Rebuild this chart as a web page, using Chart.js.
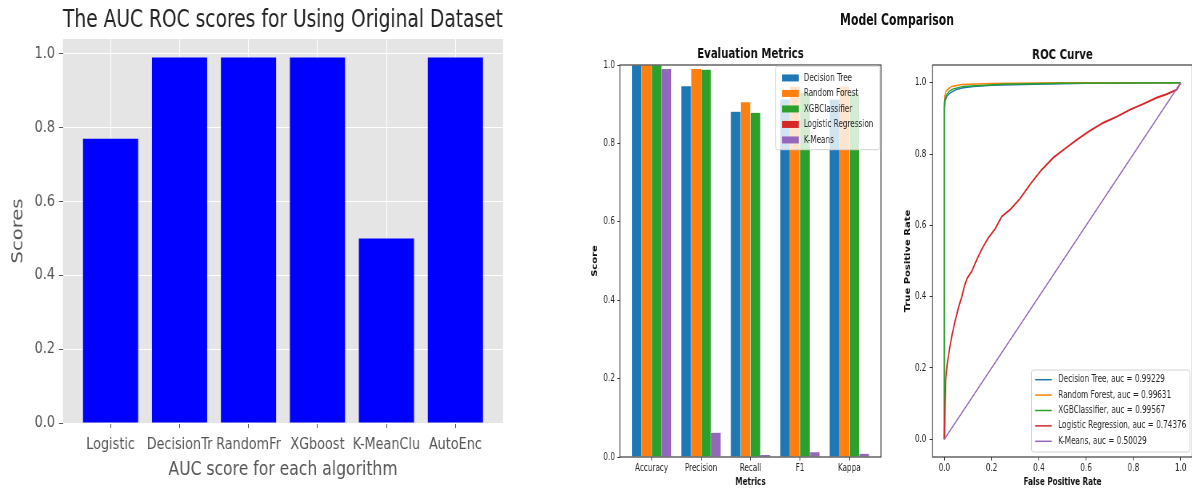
<!DOCTYPE html>
<html>
<head>
<meta charset="utf-8">
<script src="https://cdn.jsdelivr.net/npm/chart.js@4.4.1/dist/chart.umd.min.js"></script>
<style>
  html, body { margin: 0; padding: 0; background: #fff; width: 1192px; height: 495px; overflow: hidden; position: relative; }
  .panel { position: absolute; top: 0; height: 495px; transform-origin: 0 0; }
  #left { left: 0; width: 700px; transform: scaleX(0.8); }
  #right { left: 560px; width: 900px; transform: scaleX(0.726); }
  canvas { position: absolute; top: 0; }
  #suptitle { position: absolute; top: 10.5px; left: 464.2px; transform: translateX(-50%);
              font: bold 15px 'DejaVu Sans', sans-serif; line-height: 19px; white-space: nowrap; color: #111; }
</style>
</head>
<body>
<div id="left" class="panel"><canvas id="aucChart" width="700" height="495" style="left:0"></canvas></div>
<div id="right" class="panel">
  <div id="suptitle">Model Comparison</div>
  <canvas id="metricsChart" width="470" height="495" style="left:0"></canvas>
  <canvas id="rocChart" width="435" height="495" style="left:465px"></canvas>
</div>
<script>
// ---- AUC per algorithm ----
const aucAlgorithms = ['Logistic', 'DecisionTr', 'RandomFr', 'XGboost', 'K-MeanClu', 'AutoEnc'];
const aucScores = [0.77, 0.99, 0.99, 0.99, 0.50, 0.99];

// ---- shared 0..1 tick values ----
const unitTicks = [0, 0.2, 0.4, 0.6, 0.8, 1.0];

// ---- evaluation metrics per model ----
const metricNames = ['Accuracy', 'Precision', 'Recall', 'F1', 'Kappa'];
const modelNames = ['Decision Tree', 'Random Forest', 'XGBClassifier', 'Logistic Regression', 'K-Means'];
const decisionTreeMetrics = [0.999, 0.946, 0.881, 0.912, 0.912];
const randomForestMetrics = [0.999, 0.990, 0.905, 0.945, 0.945];
const xgbMetrics          = [0.999, 0.988, 0.878, 0.929, 0.928];
const logisticMetrics     = [0, 0, 0, 0, 0];
const kmeansMetrics       = [0.990, 0.062, 0.005, 0.012, 0.008];

// ---- ROC curves (fpr, tpr) ----
const rocAuc = [0.99229, 0.99631, 0.99567, 0.74376, 0.50029];
const rocDecisionTree = [[0,0],[0,0.93],[0.004,0.95],[0.012,0.963],[0.025,0.972],[0.05,0.981],[0.08,0.986],[0.123,0.99],[0.2,0.993],[0.38,0.996],[0.6,0.999],[1,1]];
const rocRandomForest = [[0,0],[0,0.94],[0.002,0.965],[0.006,0.975],[0.015,0.982],[0.031,0.99],[0.074,0.995],[0.2,0.998],[0.5,1],[1,1]];
const rocXgb = [[0,0],[0,0.945],[0.004,0.958],[0.01,0.967],[0.02,0.976],[0.038,0.983],[0.08,0.99],[0.25,0.996],[0.5,0.999],[1,1]];
const rocLogistic = [[0,0],[0.003,0.09],[0.006,0.17],[0.012,0.21],[0.021,0.25],[0.032,0.29],[0.045,0.33],[0.06,0.37],[0.074,0.40],[0.085,0.43],[0.097,0.452],[0.115,0.47],[0.14,0.508],[0.16,0.535],[0.186,0.565],[0.215,0.59],[0.243,0.625],[0.28,0.645],[0.32,0.675],[0.363,0.715],[0.41,0.755],[0.461,0.79],[0.51,0.815],[0.56,0.84],[0.615,0.865],[0.673,0.888],[0.73,0.905],[0.786,0.925],[0.84,0.94],[0.898,0.958],[0.94,0.968],[0.983,0.981],[1,1]];
const rocKMeans = [[0,0],[1,1]];

const tab10 = ['#1f77b4', '#ff7f0e', '#2ca02c', '#d62728', '#9467bd'];

Chart.defaults.font.family = "'DejaVu Sans', sans-serif";
Chart.defaults.animation = false;
Chart.defaults.events = [];
Chart.defaults.plugins.tooltip.enabled = false;
Chart.defaults.plugins.legend.display = false;

const fixedTicks = values => scale => { scale.ticks = values.map(v => ({ value: v })); };

// gray plotting background (ggplot look)
const panelBackground = {
  id: 'panelBackground',
  beforeDraw(chart, args, opts) {
    const { ctx, chartArea: a } = chart;
    ctx.save();
    ctx.fillStyle = opts.color;
    ctx.fillRect(a.left, a.top, a.right - a.left, a.bottom - a.top);
    ctx.restore();
  }
};

// four-sided axes frame
const axesFrame = {
  id: 'axesFrame',
  afterDatasetsDraw(chart) {
    const { ctx, chartArea: a } = chart;
    ctx.save();
    ctx.strokeStyle = '#3c3c3c';
    ctx.lineWidth = 1.2;
    ctx.strokeRect(a.left, a.top, a.right - a.left, a.bottom - a.top);
    ctx.restore();
  }
};

// boxed legend inside the axes
const boxLegend = {
  id: 'boxLegend',
  afterDraw(chart, args, o) {
    const { ctx, chartArea: a } = chart;
    const items = chart.data.datasets;
    ctx.save();
    ctx.font = "10px 'DejaVu Sans', sans-serif";
    const textW = Math.max(...items.map(d => ctx.measureText(d.label).width));
    const w = o.padL + o.handle + o.gap + textW + o.padR;
    const h = o.padT + items.length * o.row + o.padB;
    const x = a.right - o.insetX - w;
    const y = o.loc === 'lower' ? a.bottom - o.insetY - h : a.top + o.insetY;
    ctx.beginPath();
    ctx.roundRect(x, y, w, h, 3);
    ctx.fillStyle = 'rgba(255,255,255,0.8)';
    ctx.fill();
    ctx.strokeStyle = '#d2d2d2';
    ctx.lineWidth = 1;
    ctx.stroke();
    items.forEach((d, i) => {
      const cy = y + o.padT + (i + 0.5) * o.row;
      const hx = x + o.padL;
      if (o.kind === 'patch') {
        ctx.fillStyle = d.backgroundColor;
        ctx.fillRect(hx, cy - 3.5, o.handle, 7);
      } else {
        ctx.strokeStyle = d.borderColor;
        ctx.lineWidth = 1.5;
        ctx.beginPath();
        ctx.moveTo(hx, cy);
        ctx.lineTo(hx + o.handle, cy);
        ctx.stroke();
      }
      ctx.fillStyle = '#262626';
      ctx.textAlign = 'left';
      ctx.textBaseline = 'middle';
      ctx.fillText(d.label, hx + o.handle + o.gap, cy);
    });
    ctx.restore();
  }
};

// ===== AUC bar chart =====
new Chart(document.getElementById('aucChart'), {
  type: 'bar',
  data: {
    datasets: [{
      data: aucScores.map((v, i) => ({ x: i, y: v })),
      backgroundColor: '#0000ff',
      barPercentage: 0.8,
      categoryPercentage: 1
    }]
  },
  options: {
    responsive: false,
    layout: { padding: { left: 0, right: 71.25, top: 0, bottom: 0 } },
    plugins: {
      title: { display: true, text: 'The AUC ROC scores for Using Original Dataset', fullSize: false,
               color: '#222', font: { size: 24, weight: 'normal' }, padding: { top: 6.6, bottom: 3.6 } },
      panelBackground: { color: '#e5e5e5' }
    },
    scales: {
      x: {
        type: 'linear', min: -0.69, max: 5.69, offset: false,
        afterBuildTicks: fixedTicks(aucAlgorithms.map((_, i) => i)),
        afterFit: s => { s.height = 72; },
        ticks: { callback: v => aucAlgorithms[v], color: '#555', font: { size: 16 }, padding: 7.5, maxRotation: 0, autoSkip: false },
        grid: { offset: false, color: '#ffffff', lineWidth: 1, tickColor: '#555', tickLength: 5 },
        border: { display: false },
        title: { display: true, text: 'AUC score for each algorithm', color: '#555', font: { size: 19.5 }, padding: { top: 0, bottom: 13.3 } }
      },
      y: {
        min: 0, max: 1.04,
        afterBuildTicks: fixedTicks(unitTicks),
        afterFit: s => { s.width = 78.75; },
        ticks: { callback: v => v.toFixed(1), color: '#555', font: { size: 16 }, padding: 5 },
        grid: { color: '#ffffff', lineWidth: 1, tickColor: '#555', tickLength: 5 },
        border: { display: false },
        title: { display: true, text: 'Scores', color: '#555', font: { size: 19.5 }, padding: { top: 11.2, bottom: 0 } }
      }
    }
  },
  plugins: [panelBackground]
});

// ===== Evaluation metrics grouped bars =====
const metricsByModel = [decisionTreeMetrics, randomForestMetrics, xgbMetrics, logisticMetrics, kmeansMetrics];
const groupBarWidth = 0.2;
new Chart(document.getElementById('metricsChart'), {
  type: 'bar',
  data: {
    datasets: modelNames.map((name, i) => ({
      label: name,
      backgroundColor: tab10[i],
      borderColor: 'rgba(255,255,255,0.7)',
      borderWidth: { left: 0.5, right: 0.5, top: 0, bottom: 0 },
      borderSkipped: false,
      // Logistic Regression shares the last slot with K-Means
      data: metricsByModel[i].map((v, j) => ({ x: j + (Math.min(i, 3) - 1.5) * groupBarWidth, y: v })),
      grouped: false,
      barPercentage: 1,
      categoryPercentage: 1
    }))
  },
  options: {
    responsive: false,
    layout: { padding: { left: 0, right: 27.9, top: 0, bottom: 0 } },
    plugins: {
      title: { display: true, text: 'Evaluation Metrics', fullSize: false, color: '#111',
               font: { size: 14, weight: 'bold' }, padding: { top: 45.6, bottom: 2.6 } },
      boxLegend: { kind: 'patch', loc: 'upper', insetX: 1.5, insetY: 1.2, padL: 9.3, handle: 22.8, gap: 6.9, padR: 9, padT: 4, padB: 2, row: 15.5 }
    },
    scales: {
      x: {
        type: 'linear', min: -0.64, max: 4.64, offset: false,
        afterBuildTicks: fixedTicks(metricNames.map((_, i) => i)),
        afterFit: s => { s.height = 38; },
        ticks: { callback: v => metricNames[v], color: '#262626', font: { size: 10 }, padding: 2.2, maxRotation: 0, autoSkip: false },
        grid: { offset: false, drawOnChartArea: false, tickColor: '#333', tickLength: 3.5 },
        border: { display: false },
        title: { display: true, text: 'Metrics', color: '#111', font: { size: 10, weight: 'bold' }, padding: { top: 0, bottom: 6.3 } }
      },
      y: {
        min: 0, max: 1,
        afterBuildTicks: fixedTicks(unitTicks),
        afterFit: s => { s.width = 82.6; },
        ticks: { callback: v => v.toFixed(1), color: '#262626', font: { size: 10 }, padding: 3.5 },
        grid: { drawOnChartArea: false, tickColor: '#333', tickLength: 3.5 },
        border: { display: false },
        title: { display: true, text: 'Score', color: '#111', font: { size: 10, weight: 'bold' }, padding: { top: 42.2, bottom: 0 } }
      }
    }
  },
  plugins: [axesFrame, boxLegend]
});

// ===== ROC curves =====
const rocCurves = [rocDecisionTree, rocRandomForest, rocXgb, rocLogistic, rocKMeans];
new Chart(document.getElementById('rocChart'), {
  type: 'line',
  data: {
    datasets: modelNames.map((name, i) => ({
      label: `${name}, auc = ${rocAuc[i].toFixed(5)}`,
      data: rocCurves[i].map(([x, y]) => ({ x, y })),
      borderColor: tab10[i],
      borderWidth: i === 3 ? 1.9 : 1.5,
      pointRadius: 0,
      tension: 0,
      fill: false,
      order: modelNames.length - 1 - i
    }))
  },
  options: {
    responsive: false,
    layout: { padding: { left: 0, right: 28.8, top: 0, bottom: 0 } },
    plugins: {
      title: { display: true, text: 'ROC Curve', fullSize: false, color: '#111',
               font: { size: 14, weight: 'bold' }, padding: { top: 46.6, bottom: 1.6 } },
      boxLegend: { kind: 'line', loc: 'lower', insetX: 3.4, insetY: 5, padL: 4.9, handle: 23, gap: 8.8, padR: 5.3, padT: 2, padB: 3, row: 15.4 }
    },
    scales: {
      x: {
        type: 'linear', min: -0.05, max: 1.05,
        afterBuildTicks: fixedTicks(unitTicks),
        afterFit: s => { s.height = 38; },
        ticks: { callback: v => v.toFixed(1), color: '#262626', font: { size: 10 }, padding: 1.8, maxRotation: 0, autoSkip: false },
        grid: { drawOnChartArea: false, tickColor: '#333', tickLength: 3.5 },
        border: { display: false },
        title: { display: true, text: 'False Positive Rate', color: '#111', font: { size: 10, weight: 'bold' }, padding: { top: 0, bottom: 7 } }
      },
      y: {
        type: 'linear', min: -0.05, max: 1.05,
        afterBuildTicks: fixedTicks(unitTicks),
        afterFit: s => { s.width = 48.1; },
        ticks: { callback: v => v.toFixed(1), color: '#262626', font: { size: 10 }, padding: 4.5 },
        grid: { drawOnChartArea: false, tickColor: '#333', tickLength: 4 },
        border: { display: false },
        title: { display: true, text: 'True Positive Rate', color: '#111', font: { size: 10, weight: 'bold' }, padding: { top: 8.3, bottom: 0 } }
      }
    }
  },
  plugins: [axesFrame, boxLegend]
});
</script>
</body>
</html>
